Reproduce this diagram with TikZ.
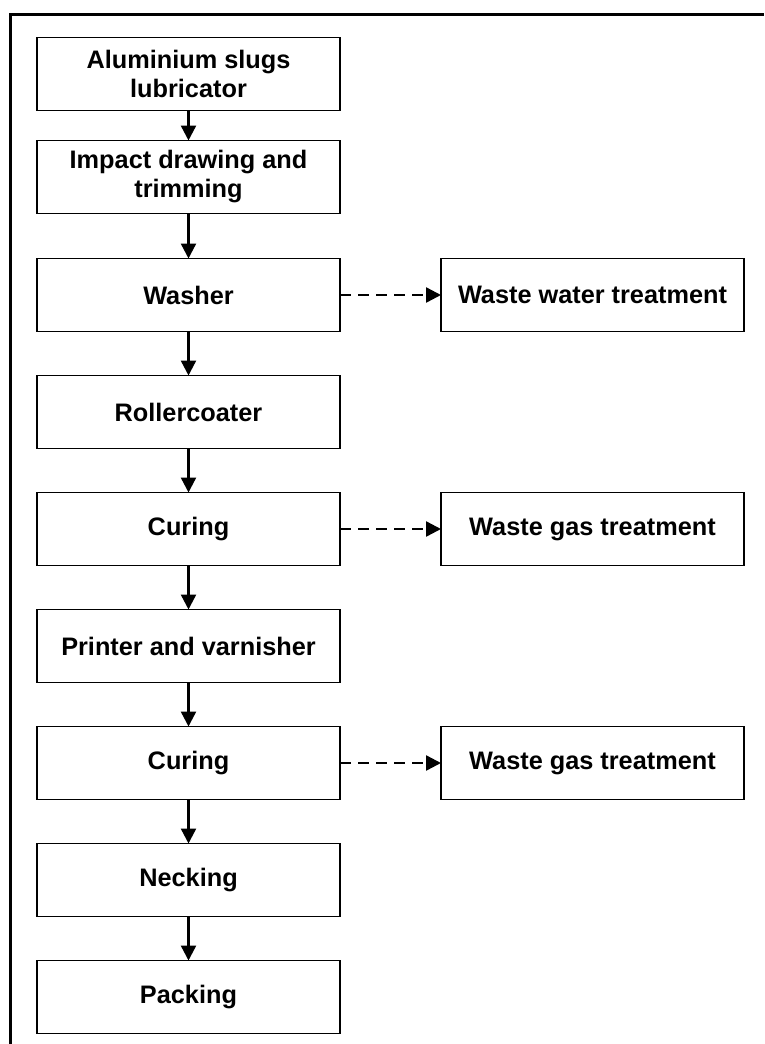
\documentclass[tikz,border=0pt]{standalone}
\usepackage{fontspec}
\setmainfont{Liberation Sans}
\usetikzlibrary{arrows.meta, positioning}

\begin{document}
\begin{tikzpicture}[
    x=1pt,
    y=-1pt,
    >={Triangle[length=15pt, width=15pt]},
    block/.style={rectangle, draw=black, line width=1.6pt, fill=white, minimum width=303pt, minimum height=73pt, inner sep=2pt, outer sep=0pt, align=center, font=\fontsize{25.3}{29}\selectfont\bfseries},
    line/.style={draw=black, line width=2.4pt, ->},
    dashedline/.style={draw=black, line width=2.4pt, dash pattern=on 11pt off 7pt, ->}
]
    \useasboundingbox (0,0) rectangle (764,1044);

    % Marco
    \draw [line width=3pt] (10,1044) -- (10,14) -- (764,14);

    % Columna central
    \node [block] (slugs) at (188.5,74) {Aluminium slugs\\lubricator};
    \node [block, below=30pt of slugs] (impact) {Impact drawing and\\trimming};
    \node [block, below=45pt of impact] (washer) {Washer};
    \node [block, below=44pt of washer] (roller) {Rollercoater};
    \node [block, below=44pt of roller] (curinga) {Curing};
    \node [block, below=44pt of curinga] (printer) {Printer and varnisher};
    \node [block, below=44pt of printer] (curingb) {Curing};
    \node [block, below=44pt of curingb] (necking) {Necking};
    \node [block, below=44pt of necking] (packing) {Packing};

    % Columna derecha
    \node [block, right=101pt of washer] (water) {Waste water treatment};
    \node [block, right=101pt of curinga] (gasa) {Waste gas treatment};
    \node [block, right=101pt of curingb] (gasb) {Waste gas treatment};

    % Conexiones
    \draw [line] (slugs) -- (impact);
    \draw [line] (impact) -- (washer);
    \draw [line] (washer) -- (roller);
    \draw [line] (roller) -- (curinga);
    \draw [line] (curinga) -- (printer);
    \draw [line] (printer) -- (curingb);
    \draw [line] (curingb) -- (necking);
    \draw [line] (necking) -- (packing);

    \draw [dashedline] (washer) -- (water);
    \draw [dashedline] (curinga) -- (gasa);
    \draw [dashedline] (curingb) -- (gasb);

\end{tikzpicture}
\end{document}
